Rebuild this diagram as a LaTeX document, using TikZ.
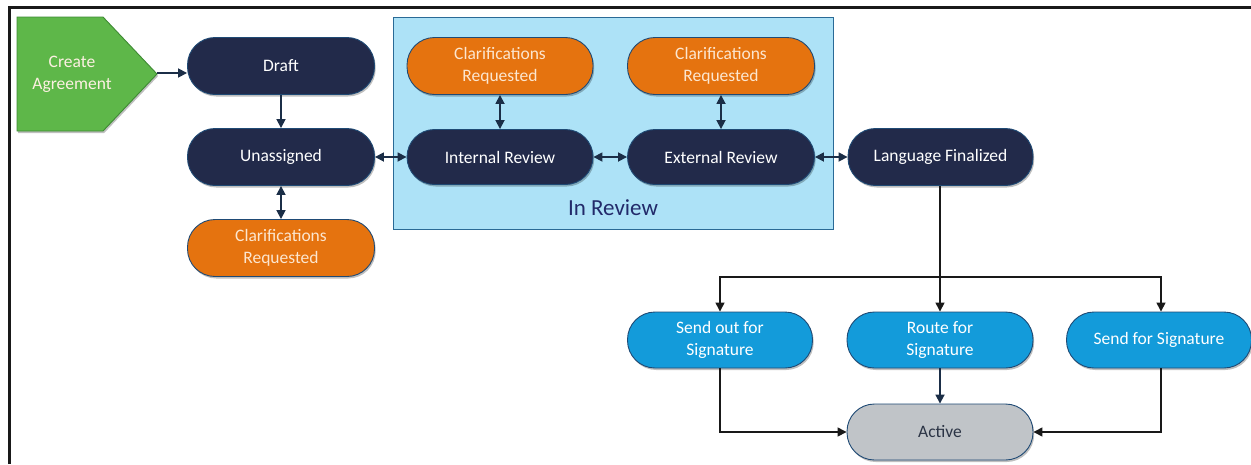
\documentclass[tikz,border=0pt]{standalone}
\usepackage{fontspec}
\setmainfont{Carlito}
\usetikzlibrary{arrows.meta,shadows,calc}
\definecolor{navy}{HTML}{222A4A}
\definecolor{edgeblue}{HTML}{1F4A75}
\definecolor{orangeF}{HTML}{E5730F}
\definecolor{creamT}{HTML}{FCE6CF}
\definecolor{blueF}{HTML}{139BDA}
\definecolor{grayF}{HTML}{C0C4C8}
\definecolor{activeT}{HTML}{2B3445}
\definecolor{reviewF}{HTML}{ADE2F7}
\definecolor{reviewD}{HTML}{2A6A96}
\definecolor{greenF}{HTML}{5EB749}
\definecolor{greenD}{HTML}{3E8A33}
\definecolor{arrowC}{HTML}{1B2E47}
\tikzset{
  stadium/.style={rectangle, rounded corners=27.5pt, minimum width=187pt, minimum height=57pt,
    align=center, draw=edgeblue, line width=0.9pt, inner sep=2pt,
    font=\fontsize{17.5}{22}\selectfont,
    drop shadow={shadow xshift=1.2pt, shadow yshift=-2pt, opacity=0.25, fill=black}},
  navybox/.style={stadium, fill=navy, text=white},
  orangebox/.style={stadium, fill=orangeF, text=creamT},
  bluebox/.style={stadium, fill=blueF, text=white},
  graybox/.style={stadium, fill=grayF, text=activeT},
  conn/.style={draw=arrowC, line width=1.7pt, -{Triangle[length=9pt,width=9pt]}},
  biconn/.style={draw=arrowC, line width=1.7pt, {Triangle[length=9pt,width=9pt]}-{Triangle[length=9pt,width=9pt]}},
  lconn/.style={draw=black!90, line width=1.4pt, -{Triangle[length=9pt,width=9pt]}},
  lline/.style={draw=black!90, line width=1.4pt},
}
\begin{document}
\begin{tikzpicture}[x=1pt,y=-1pt]
\useasboundingbox (0,0) rectangle (1251,464);
\fill[white] (0,0) rectangle (1251,464);
% frame
\draw[line width=3pt, black!90] (9,464) -- (9,7) -- (1251,7);
% In Review container
\draw[fill=reviewF, draw=reviewD, line width=0.9pt] (393,17) rectangle (833,229);
\node[text=activeT!80!blue, font=\fontsize{23}{26}\selectfont] (inreview) at (613,208) {In Review};
% Create Agreement
\draw[fill=greenF, draw=greenD, line width=0.9pt, drop shadow={shadow xshift=1.2pt, shadow yshift=-2pt, opacity=0.25, fill=black}]
  (17,17) -- (103,17) -- (157,74) -- (103,131) -- (17,131) -- cycle;
\node[text=creamT!60!white, align=center, font=\fontsize{17.5}{22}\selectfont] (create) at (72,74) {Create\\Agreement};
\coordinate (createtip) at (157,73);
% nodes
\node[navybox] (draft) at (281,66) {Draft};
\node[navybox] (unassigned) at (281,157) {Unassigned};
\node[orangebox] (clar0) at (281,248) {Clarifications\\Requested};
\node[orangebox, minimum width=186pt] (clar1) at (500,66) {Clarifications\\Requested};
\node[navybox, minimum width=186pt, minimum height=55pt] (internal) at (500,157) {Internal Review};
\node[orangebox] (clar2) at (721,66) {Clarifications\\Requested};
\node[navybox, minimum height=55pt] (external) at (721,157) {External Review};
\node[navybox, minimum width=185pt] (lf) at (940.5,157) {Language Finalized};
\node[bluebox, minimum width=185pt, minimum height=56pt] (sendout) at (720,340) {Send out for\\Signature};
\node[bluebox, minimum width=186pt, minimum height=56pt] (route) at (940,340) {Route for\\Signature};
\node[bluebox, minimum width=185pt, minimum height=56pt] (sendfor) at (1159,340) {Send for Signature};
\node[graybox, minimum width=186pt, minimum height=56pt] (active) at (940,432) {Active};
% connectors
\draw[conn] (createtip) -- (draft.west |- createtip);
\draw[conn] (draft.south) -- (unassigned.north);
\draw[biconn] (unassigned.south) -- (clar0.north);
\draw[biconn] (unassigned.east) -- (internal.west);
\draw[biconn] (clar1.south) -- (internal.north);
\draw[biconn] (internal.east) -- (external.west);
\draw[biconn] (clar2.south) -- (external.north);
\draw[biconn] (external.east) -- (lf.west);
\coordinate (split) at (940,277);
\draw[lline] (lf.south -| split) -- (split);
\draw[lconn] (split) -| (sendout.north);
\draw[lconn] (split) -| ($(sendfor.north)+(2,0)$);
\draw[lconn] (split) -- (route.north);
\draw[conn] (route.south) -- (active.north);
\draw[lconn] (sendout.south) |- (active.west);
\draw[lconn] ($(sendfor.south)+(2,0)$) |- (active.east);
\end{tikzpicture}
\end{document}
